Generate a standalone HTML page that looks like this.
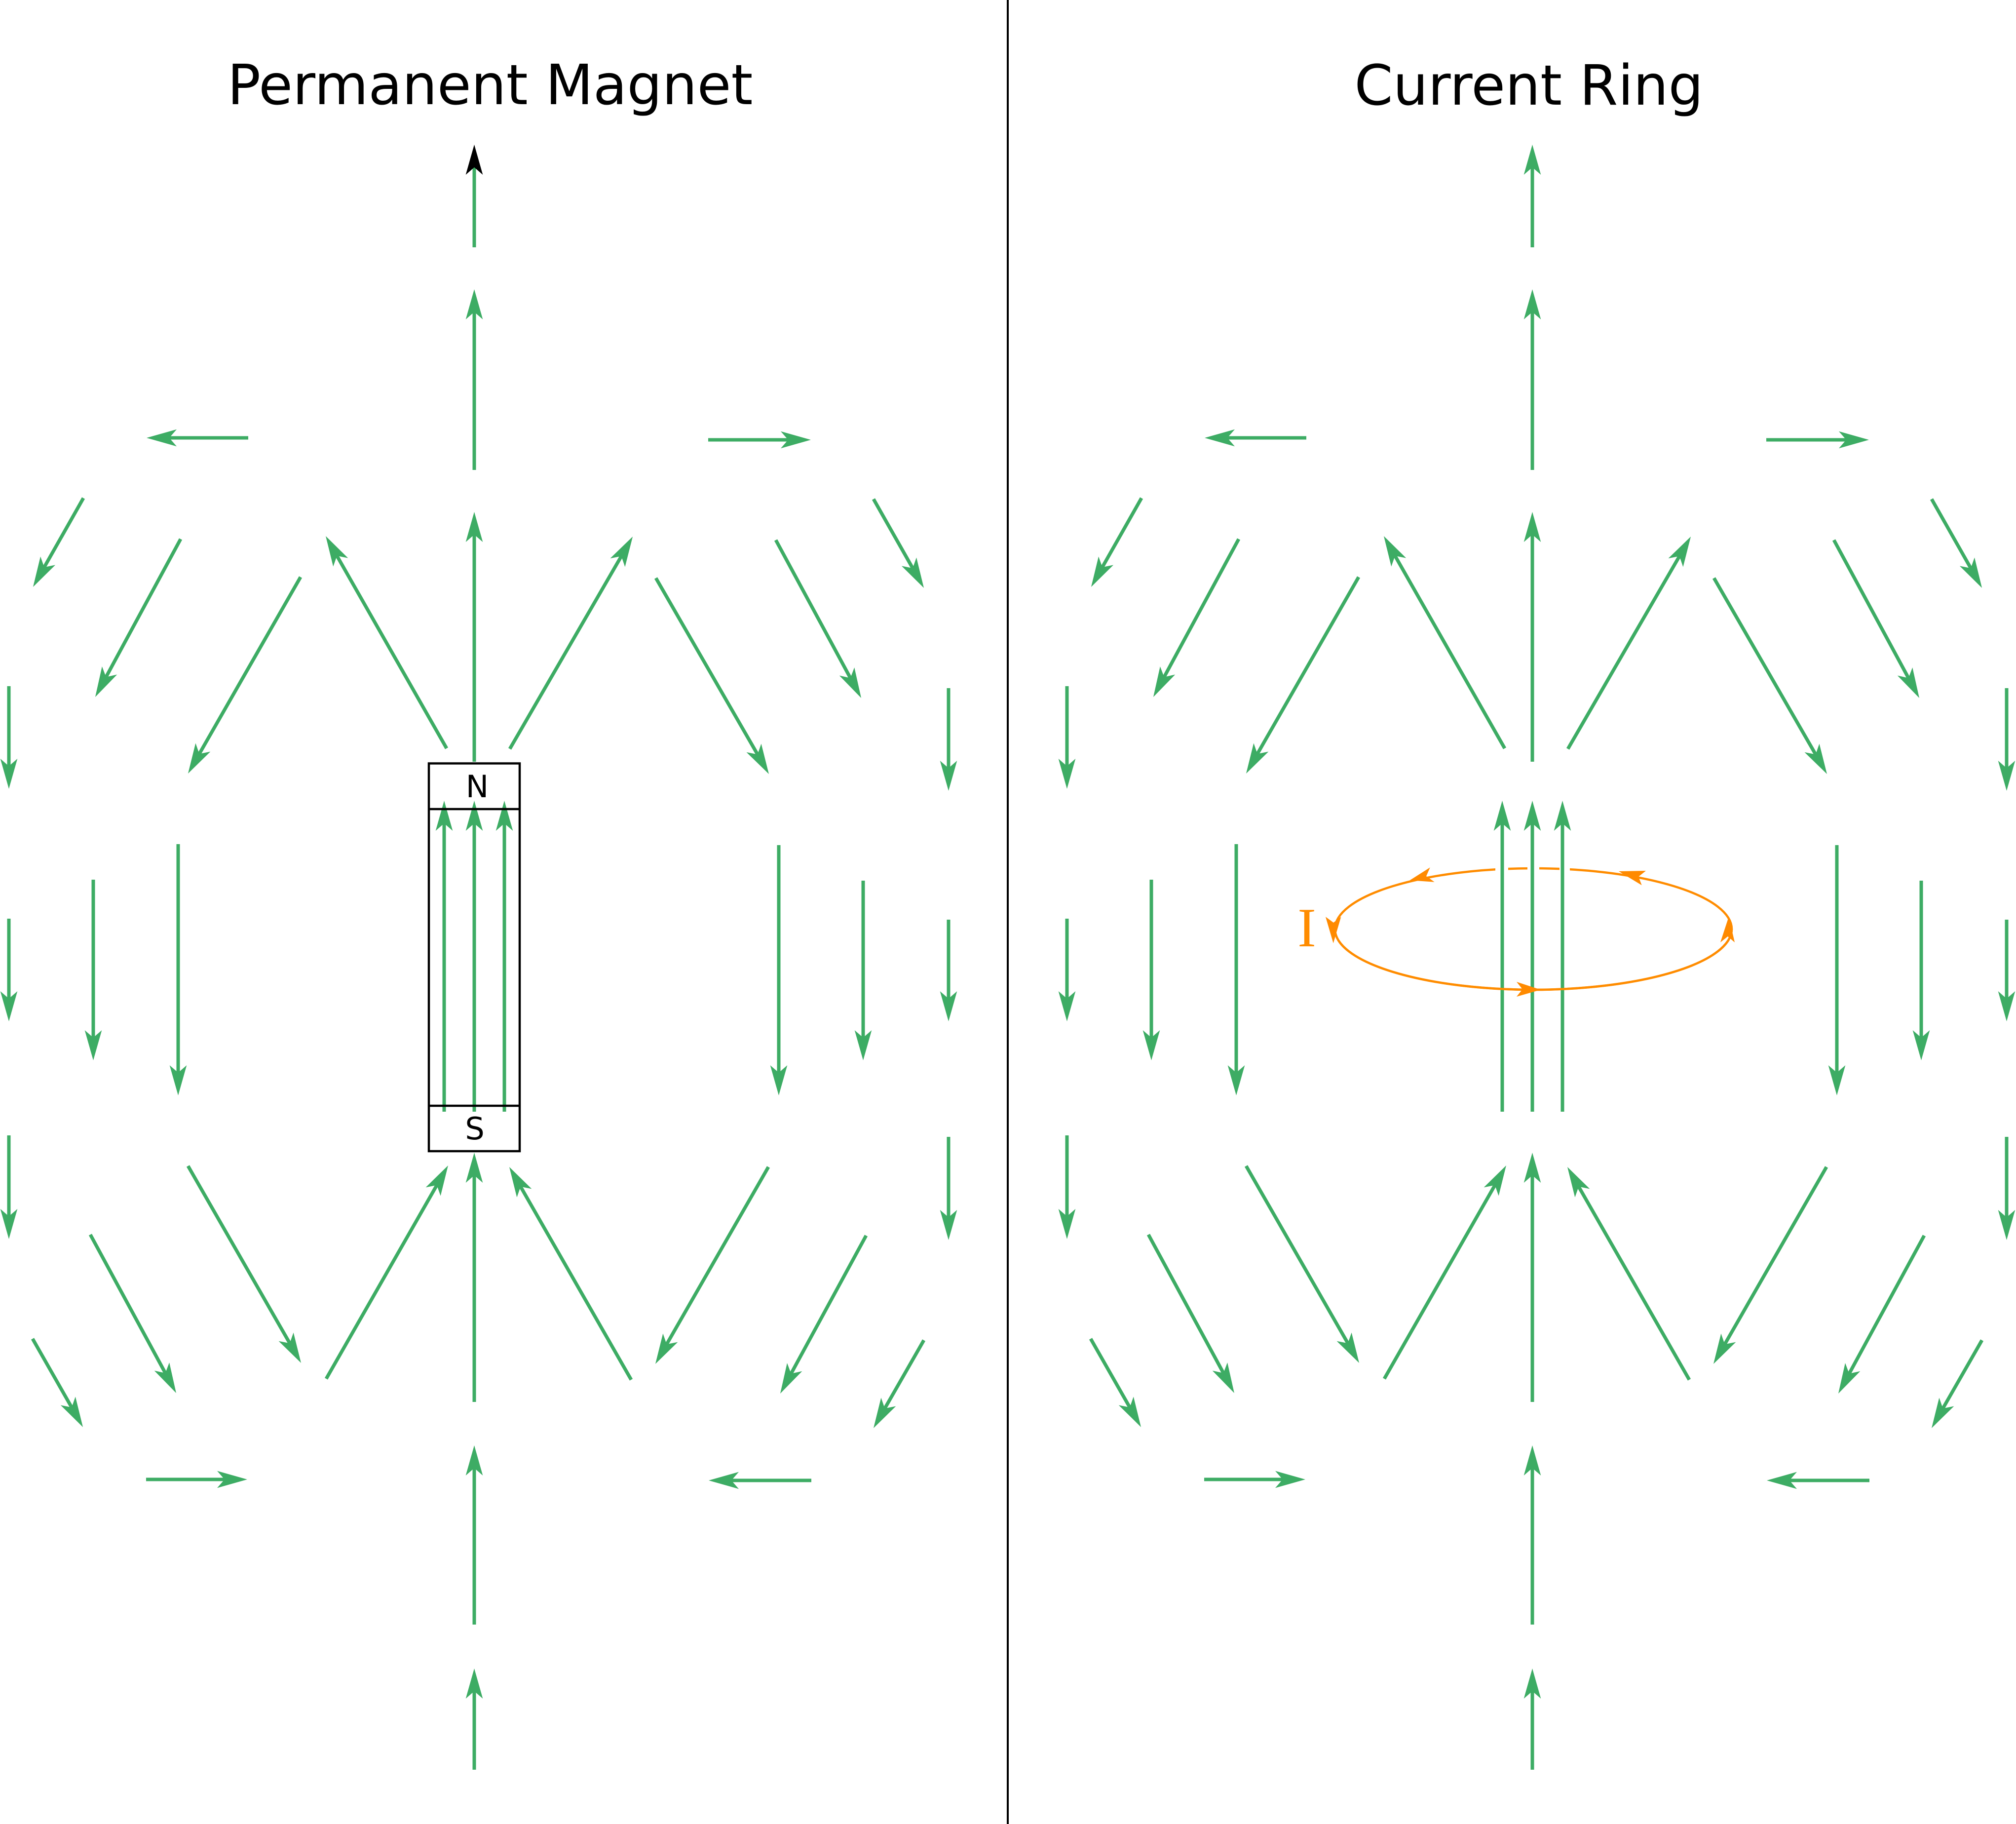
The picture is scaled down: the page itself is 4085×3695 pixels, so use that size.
<!DOCTYPE html>
<html>
<head>
<meta charset="utf-8">
<style>
  html, body { margin: 0; padding: 0; background: #ffffff; }
  svg { display: block; }
</style>
</head>
<body>
<svg xmlns="http://www.w3.org/2000/svg" width="4085" height="3695" viewBox="0 0 4085 3695">
  <defs>
    <marker id="hg" markerUnits="userSpaceOnUse" orient="auto" refX="0" refY="0" markerWidth="120" markerHeight="120" viewBox="-60 -60 120 120" overflow="visible">
      <path d="M40,0 L-21,-17.3 L-6,0 L-21,17.3 Z" fill="#3dac64"/>
    </marker>
    <marker id="hb" markerUnits="userSpaceOnUse" orient="auto" refX="0" refY="0" markerWidth="120" markerHeight="120" viewBox="-60 -60 120 120" overflow="visible">
      <path d="M40,0 L-21,-17.3 L-6,0 L-21,17.3 Z" fill="#000000"/>
    </marker>
    <g id="field" stroke="#3dac64" stroke-width="7" fill="none" marker-end="url(#hg)">
      <!-- center column -->
      <line x1="961" y1="952" x2="961" y2="626"/>
      <line x1="961" y1="1543" x2="961" y2="1077"/>
      <line x1="961" y1="2840" x2="961" y2="2375"/>
      <line x1="961" y1="3291" x2="961" y2="2968"/>
      <line x1="961" y1="3585" x2="961" y2="3420"/>
      <!-- inner -->
      <line x1="900" y1="2252" x2="900" y2="1662"/>
      <line x1="961" y1="2252" x2="961" y2="1662"/>
      <line x1="1022" y1="2252" x2="1022" y2="1662"/>
      <!-- horizontals -->
      <line x1="503" y1="887" x2="337" y2="887"/>
      <line x1="1435" y1="891" x2="1603" y2="891"/>
      <line x1="296" y1="2997" x2="461" y2="2997"/>
      <line x1="1644" y1="2999" x2="1476" y2="2999"/>
      <!-- diagonals top -->
      <line x1="169" y1="1009" x2="86.7" y2="1154.2"/>
      <line x1="366" y1="1092" x2="212" y2="1376.8"/>
      <line x1="609" y1="1169" x2="400.9" y2="1532.3"/>
      <line x1="905" y1="1516" x2="679.8" y2="1120.8"/>
      <line x1="1033" y1="1517" x2="1262" y2="1121.6"/>
      <line x1="1329" y1="1171" x2="1538" y2="1533.4"/>
      <line x1="1572" y1="1094" x2="1726" y2="1378.8"/>
      <line x1="1770" y1="1011" x2="1852.3" y2="1156.2"/>
      <!-- diagonals bottom -->
      <line x1="66" y1="2712" x2="148.2" y2="2856.2"/>
      <line x1="183" y1="2501" x2="337.9" y2="2786.8"/>
      <line x1="381" y1="2362" x2="590.1" y2="2726.3"/>
      <line x1="661" y1="2793" x2="888.1" y2="2395.7"/>
      <line x1="1279" y1="2795" x2="1051.9" y2="2398.7"/>
      <line x1="1557" y1="2364" x2="1347.9" y2="2728.3"/>
      <line x1="1755" y1="2503" x2="1600.1" y2="2787.9"/>
      <line x1="1872" y1="2715" x2="1789.9" y2="2858.3"/>
      <!-- side verticals -->
      <line x1="18" y1="1390" x2="18" y2="1558"/>
      <line x1="18" y1="1861" x2="18" y2="2029"/>
      <line x1="18" y1="2300" x2="18" y2="2470"/>
      <line x1="1922" y1="1394" x2="1922" y2="1562"/>
      <line x1="1922" y1="1863" x2="1922" y2="2029"/>
      <line x1="1922" y1="2303" x2="1922" y2="2472"/>
      <line x1="189" y1="1782" x2="189" y2="2108"/>
      <line x1="361" y1="1710" x2="361" y2="2179"/>
      <line x1="1578" y1="1712" x2="1578" y2="2179"/>
      <line x1="1749" y1="1784" x2="1749" y2="2108"/>
    </g>
  </defs>

  <rect x="0" y="0" width="4085" height="3695" fill="#ffffff"/>

  <!-- divider -->
  <line x1="2042" y1="0" x2="2042" y2="3695" stroke="#000" stroke-width="4"/>

  <!-- titles -->
  <text x="993" y="211" font-family="DejaVu Sans, Liberation Sans, sans-serif" font-size="112" text-anchor="middle" fill="#000">Permanent Magnet</text>
  <text x="3098" y="212" font-family="DejaVu Sans, Liberation Sans, sans-serif" font-size="112" text-anchor="middle" fill="#000">Current Ring</text>

  <!-- LEFT PANEL -->
  <use href="#field"/>
  <line x1="961" y1="501" x2="961" y2="333" stroke="#3dac64" stroke-width="7" marker-end="url(#hb)"/>

  <!-- magnet -->
  <g stroke="#000" stroke-width="4.5" fill="none">
    <rect x="869" y="1546.5" width="184" height="785.5"/>
    <line x1="869" y1="1639" x2="1053" y2="1639"/>
    <line x1="869" y1="2240" x2="1053" y2="2240"/>
  </g>
  <text x="967" y="1615" font-family="DejaVu Sans, Liberation Sans, sans-serif" font-size="62" text-anchor="middle" fill="#000">N</text>
  <text x="962" y="2308" font-family="DejaVu Sans, Liberation Sans, sans-serif" font-size="62" text-anchor="middle" fill="#000">S</text>

  <!-- RIGHT PANEL -->
  <!-- ring (back part) -->
  <ellipse cx="3107" cy="1882" rx="402" ry="123" fill="none" stroke="#ff8c00" stroke-width="4.5"/>
  <!-- gaps in the top arc -->
  <rect x="3030" y="1745" width="26" height="30" fill="#ffffff"/>
  <rect x="3095" y="1745" width="24" height="30" fill="#ffffff"/>
  <rect x="3160" y="1745" width="21" height="30" fill="#ffffff"/>

  <use href="#field" x="2144"/>
  <line x1="3105" y1="501" x2="3105" y2="333" stroke="#3dac64" stroke-width="7" marker-end="url(#hg)"/>

  <!-- ring front arc -->
  <path d="M2705,1882 A402,123 0 0 0 3509,1882" fill="none" stroke="#ff8c00" stroke-width="4.5"/>
  <!-- ring arrowheads -->
  <g fill="#ff8a00">
    <polygon points="2701.7,1910.7 2686,1857.3 2702,1869 2717.3,1857.3"/>
    <polygon points="3503,1857 3486,1909 3501,1897 3515,1909"/>
    <polygon points="3122,2005 3073,1989 3085,2004 3073,2019"/>
    <polygon points="2856.7,1783.3 2897.7,1757.3 2890,1775 2906.7,1786.7"/>
    <polygon points="3280,1765 3335,1764 3320,1776 3326.7,1793.3"/>
  </g>
  <text x="2648" y="1917" font-family="Liberation Serif, DejaVu Serif, serif" font-size="112" text-anchor="middle" fill="#ff8c00">I</text>
</svg>
</body>
</html>
